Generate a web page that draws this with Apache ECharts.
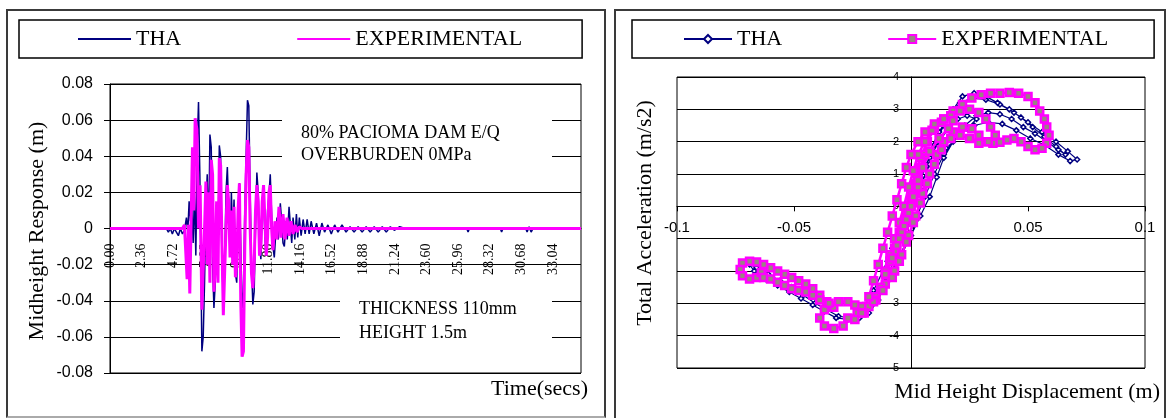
<!DOCTYPE html>
<html><head><meta charset="utf-8">
<script src="https://cdn.jsdelivr.net/npm/echarts@6/dist/echarts.min.js"></script>
<style>
html,body{margin:0;padding:0;background:#fff;width:1168px;height:418px;overflow:hidden;}
#left{position:absolute;left:0;top:0;width:610px;height:418px;}
#right{position:absolute;left:610px;top:0;width:558px;height:418px;}
.frame{position:absolute;border:2px solid #3a3a3a;box-sizing:border-box;}
</style></head>
<body>
<div class="frame" style="left:6px;top:9px;width:600px;height:409px;border-bottom-color:#aaa;"></div>
<div class="frame" style="left:614px;top:9px;width:552px;height:430px;"></div>
<div id="left"></div><div id="right"></div>
<script>
// ---------- DATA: left chart (time history) ----------
const seriesNames = ['THA', 'EXPERIMENTAL'];
const timeTickStep = 2.36;       // label spacing of time axis (s)
const timeMax = 35.12;
const responseTicks = [-0.08, 0.08, 0.02]; // min, max, step
const thaResponse = [
[0,0],[4.20,0],[4.35,-0.002],[4.50,0],[4.65,-0.003],[4.80,0],[4.95,-0.002],[5.10,-0.004],[5.25,0],[5.40,-0.003],[5.55,-0.001],[5.70,0.006],[5.80,-0.002],[5.90,0.015],[6.00,0.004],[6.10,0.012],[6.20,-0.008],[6.30,0.020],[6.40,-0.015],[6.52,0.050],[6.60,0.070],[6.70,0.030],[6.78,-0.020],[6.85,-0.068],[6.95,-0.060],[7.05,-0.030],[7.15,0.010],[7.25,0.030],[7.35,-0.010],[7.45,0.052],[7.55,0.045],[7.65,-0.020],[7.75,-0.044],[7.85,-0.030],[7.95,0.010],[8.05,-0.010],[8.15,0.046],[8.25,0.040],[8.35,-0.020],[8.45,-0.038],[8.55,-0.020],[8.65,0.020],[8.75,0.034],[8.85,0.010],[8.95,-0.015],[9.05,0.020],[9.15,-0.005],[9.25,0.016],[9.35,-0.025],[9.45,-0.030],[9.55,0.005],[9.65,0.025],[9.75,-0.010],[9.85,-0.044],[9.95,-0.035],[10.05,0.010],[10.15,0.040],[10.25,0.071],[10.35,0.068],[10.45,0.020],[10.55,-0.020],[10.65,-0.042],[10.75,-0.035],[10.85,0.000],[10.95,0.031],[11.05,0.020],[11.15,-0.010],[11.25,-0.017],[11.35,0.010],[11.45,0.020],[11.55,-0.005],[11.65,-0.015],[11.75,0.010],[11.85,0.018],[11.95,0.030],[12.05,0.008],[12.15,-0.010],[12.25,-0.016],[12.35,-0.004],[12.45,0.006],[12.55,-0.006],[12.70,0.014],[12.80,0.004],[12.90,-0.008],[13.00,-0.010],[13.12,0.004],[13.22,-0.006],[13.35,0.012],[13.45,0.002],[13.55,-0.008],[13.65,0.006],[13.78,-0.006],[13.90,0.008],[14.00,-0.005],[14.12,0.006],[14.25,-0.004],[14.40,0.005],[14.55,-0.003],[14.70,0.005],[14.85,-0.003],[15.00,0.004],[15.20,-0.003],[15.40,0.003],[15.60,-0.004],[15.80,0.003],[16.00,-0.002],[16.25,0.002],[16.50,-0.003],[16.75,0.002],[17.00,-0.002],[17.30,0.002],[17.60,-0.002],[17.90,0.001],[18.20,-0.002],[18.50,0.001],[18.80,-0.002],[19.10,0.001],[19.40,-0.002],[19.70,0.001],[20.00,-0.002],[20.30,0.001],[20.60,-0.002],[20.90,0.001],[21.20,-0.001],[21.60,0.001],[22.00,0],[26.60,0],[26.70,-0.002],[26.80,0],[29.10,0],[29.20,-0.002],[29.30,0],[31.00,0],[31.10,-0.002],[31.25,0.001],[31.40,-0.002],[31.55,0],[35.12,0]
];
const expResponse = [
[0,0],[5.40,0],[5.55,0.002],[5.65,0.003],[5.75,-0.028],[5.85,0.002],[5.95,-0.036],[6.05,0.005],[6.15,0.045],[6.25,0.010],[6.35,0.061],[6.48,0.055],[6.60,0.000],[6.72,0.024],[6.85,-0.045],[6.95,-0.044],[7.05,0.000],[7.15,0.026],[7.25,-0.020],[7.35,0.020],[7.45,-0.030],[7.55,0.038],[7.65,0.030],[7.75,-0.035],[7.85,-0.020],[7.95,0.015],[8.05,-0.030],[8.15,0.039],[8.25,0.035],[8.35,-0.010],[8.45,-0.048],[8.55,-0.047],[8.65,0.000],[8.75,0.024],[8.85,0.015],[8.95,-0.016],[9.05,0.010],[9.15,-0.020],[9.25,0.012],[9.35,-0.027],[9.45,-0.020],[9.55,0.010],[9.65,0.025],[9.75,-0.040],[9.85,-0.071],[9.95,-0.068],[10.05,-0.010],[10.15,0.030],[10.25,0.049],[10.35,0.045],[10.45,0.000],[10.55,-0.025],[10.65,-0.033],[10.75,-0.020],[10.85,0.010],[10.95,0.024],[11.05,0.015],[11.15,-0.015],[11.25,-0.010],[11.35,0.015],[11.45,0.024],[11.55,0.005],[11.65,-0.015],[11.75,-0.005],[11.85,0.020],[11.95,0.024],[12.05,0.000],[12.15,-0.012],[12.30,0.004],[12.45,-0.006],[12.60,0.012],[12.75,-0.005],[12.90,0.008],[13.05,-0.006],[13.20,0.006],[13.35,-0.004],[13.50,0.004],[13.65,-0.003],[13.80,0.002],[13.95,-0.002],[14.10,0.001],[14.30,0],[35.12,0]
];
const leftNotes = ['80% PACIOMA DAM E/Q', 'OVERBURDEN 0MPa', 'THICKNESS 110mm', 'HEIGHT 1.5m'];

// ---------- DATA: right chart (hysteresis) ----------
const dispTicks = [-0.1, 0.1, 0.05];
const accTicks = [-5, 4, 1];
const thaLoop = [
[0,0],[0.003,0.8],[-0.003,-0.8],[0.006,1.3],[-0.006,-1.4],[0.000,0.2],[0.004,1.0],[0.008,1.7],[0.012,2.3],[0.016,2.8],[0.021,3.2],[0.026,3.35],[0.032,3.3],[0.038,3.15],[0.044,2.9],[0.050,2.6],[0.056,2.3],[0.062,2.0],[0.067,1.7],[0.071,1.45],[0.068,1.4],[0.063,1.6],[0.057,1.9],[0.051,2.1],[0.045,2.35],[0.039,2.55],[0.033,2.6],[0.027,2.5],[0.020,2.2],[0.014,1.6],[0.010,1.0],[0.006,0.3],[0.002,-0.4],[-0.002,-1.1],[-0.006,-1.7],[-0.011,-2.3],[-0.016,-2.8],[-0.021,-3.2],[-0.026,-3.45],[-0.031,-3.4],[-0.036,-3.2],[-0.041,-3.0],[-0.046,-2.75],[-0.051,-2.5],[-0.056,-2.3],[-0.061,-2.1],[-0.066,-1.9],[-0.069,-1.8],[-0.067,-2.0],[-0.062,-2.25],[-0.057,-2.45],[-0.052,-2.65],[-0.047,-2.85],[-0.042,-3.05],[-0.037,-3.25],[-0.032,-3.45],[-0.027,-3.5],[-0.022,-3.45],[-0.018,-3.3],[-0.014,-2.9],[-0.010,-2.2],[-0.006,-1.4],[-0.002,-0.5],[0.002,0.4],[0.006,1.2],[0.010,1.9],[0.014,2.5],[0.018,3.0],[0.022,3.4],[0.027,3.5],[0.032,3.4],[0.037,3.2],[0.042,3.0],[0.047,2.75],[0.052,2.45],[0.057,2.15],[0.062,1.85],[0.066,1.6],[0.063,1.75],[0.058,2.0],[0.053,2.25],[0.048,2.45],[0.043,2.7],[0.038,2.85],[0.033,2.9],[0.028,2.8],[0.023,2.5],[0.018,2.0],[0.014,1.5],[0.011,0.9],[0.008,0.3],[0.004,-0.3],[0.000,-0.9],[-0.004,-1.5],[-0.008,-2.0],[-0.013,-2.6],[-0.018,-3.1],[-0.023,-3.4],[-0.020,-3.1],[-0.016,-2.6],[-0.012,-2.0],[-0.008,-1.3],[-0.004,-0.6],[0.000,0.2],[0.004,0.9],[0.008,1.5],[0.012,2.0],[0.016,2.4],[0.020,2.7],[0.024,2.8],[0.028,2.7],[0.024,2.4],[0.015,1.8],[0.005,0.6],[-0.005,-0.9],[-0.010,-1.7],[0.000,0.0],[0.008,1.3],[-0.004,-0.8],[0.004,0.5],[0,0]
];
const expLoop = [
[0,0],[0.001,0.3],[0.002,0.6],[0.003,0.9],[0.001,0.4],[-0.001,-0.2],[-0.003,-0.6],[-0.004,-0.9],[-0.002,-0.4],[0.000,0.2],[0.002,0.7],[0.004,1.2],[0.006,1.6],[0.004,1.2],[0.001,0.5],[-0.002,-0.2],[-0.005,-0.8],[-0.007,-1.3],[-0.009,-1.7],[-0.007,-1.4],[-0.004,-0.8],
[-0.002,-0.2],[0.000,0.4],[0.002,1.0],[0.004,1.5],[0.007,2.0],[0.010,2.4],[0.014,2.7],[0.018,2.95],[0.022,3.15],[0.026,3.35],[0.030,3.45],[0.034,3.5],[0.038,3.5],[0.042,3.52],[0.046,3.5],[0.050,3.4],[0.053,3.2],[0.055,2.95],[0.057,2.7],[0.058,2.45],[0.059,2.2],[0.058,1.95],[0.056,1.8],[0.053,1.75],[0.050,1.85],[0.047,2.0],[0.044,2.1],[0.041,2.05],[0.038,1.98],[0.035,1.95],[0.032,2.0],[0.029,2.2],[0.026,2.4],[0.022,2.45],[0.018,2.3],[0.014,2.0],[0.011,1.6],[0.008,1.0],[0.005,0.4],[0.002,-0.3],[-0.001,-0.9],[-0.004,-1.5],[-0.007,-2.0],[-0.011,-2.4],[-0.015,-2.8],[-0.019,-3.1],[-0.023,-3.3],[-0.027,-3.45],[-0.029,-3.7],[-0.033,-3.78],[-0.037,-3.7],[-0.039,-3.45],[-0.037,-3.2],[-0.033,-3.12],[-0.036,-2.95],[-0.039,-2.75],[-0.042,-2.55],[-0.045,-2.4],[-0.048,-2.3],[-0.051,-2.2],[-0.054,-2.1],[-0.057,-2.0],[-0.060,-1.9],[-0.063,-1.8],[-0.066,-1.72],[-0.069,-1.7],[-0.072,-1.75],[-0.073,-1.95],[-0.072,-2.15],[-0.069,-2.25],[-0.066,-2.2],[-0.064,-2.05],[-0.063,-2.2],[-0.060,-2.25],[-0.057,-2.35],[-0.054,-2.45],[-0.051,-2.55],[-0.048,-2.6],[-0.045,-2.65],[-0.042,-2.75],[-0.039,-2.9],[-0.035,-3.0],[-0.031,-2.95],[-0.027,-2.95],[-0.024,-3.05],[-0.021,-3.1],[-0.018,-3.1],[-0.015,-2.9],[-0.013,-2.5],[-0.011,-2.0],[-0.009,-1.5],[-0.007,-1.0],[-0.005,-0.5],[-0.003,0.0],[-0.001,0.6],[0.001,1.1],[0.003,1.6],[0.006,2.0],[0.009,2.35],[0.013,2.6],[0.017,2.8],[0.021,2.95],[0.025,3.0],[0.029,2.9],[0.032,2.7],[0.034,2.45],[0.036,2.2],[0.033,2.0],[0.029,1.95],[0.025,2.1],[0.021,2.2],[0.017,2.1],[0.013,1.75],[0.010,1.3],[0.007,0.7],[0.004,0.1],[0.001,-0.5],[-0.002,-1.1],[-0.005,-1.7],[-0.008,-2.2],[-0.012,-2.6],[-0.016,-2.95],[-0.020,-3.3],[-0.024,-3.5],[-0.021,-3.3],[-0.018,-2.8],[-0.016,-2.3],[-0.014,-1.8],[-0.012,-1.3],[-0.010,-0.8],[-0.008,-0.3],[-0.006,0.2],[-0.004,0.7],[-0.002,1.2],[0.000,1.6],[0.003,2.0],[0.006,2.3],[0.010,2.55],[0.014,2.7],[0.018,2.65],[0.016,2.4],[0.012,2.1],[0.008,1.7],[0.005,1.2],[0.003,0.6],[0.000,0.0],[-0.003,-0.6],[-0.006,-1.2],[-0.009,-1.7],[-0.011,-2.1],[-0.008,-1.6],[-0.005,-1.0],[-0.002,-0.4],[0.001,0.3],[0.003,0.8],[0.001,0.3],[-0.001,-0.2],[0,0]
];
const axisTitles = ['Midheight Response (m)', 'Time(secs)', 'Total Acceleration (m/s2)', 'Mid Height Displacement (m)'];

// ---------- styling ----------
const NAVY = '#000080', MAGENTA = '#ff00ff';
const SERIF = '"Liberation Serif", "Times New Roman", serif';
const SANS = '"Liberation Sans", Arial, sans-serif';

function txt(x, y, text, size, opts) {
  opts = opts || {};
  return {
    type: 'text', x: x, y: y, rotation: opts.rotation || 0, z: 60,
    style: { text: text, font: size + 'px ' + SERIF, fill: '#000',
      align: opts.align || 'left', textAlign: opts.align || 'left',
      verticalAlign: 'middle', textVerticalAlign: 'middle' }
  };
}

// left grid geometry
const LG = { left: 110, top: 84, width: 471, height: 289 };
const left = echarts.init(document.getElementById('left'));
left.setOption({
  animation: false,
  legend: {
    data: seriesNames, selectedMode: false, left: 19, top: 20,
    padding: [8, 60, 8, 58], itemGap: 115, itemWidth: 53, itemHeight: 14,
    borderColor: '#000', borderWidth: 1.5,
    itemStyle: { opacity: 0 },
    textStyle: { fontFamily: SERIF, fontSize: 22, color: '#000' }
  },
  grid: Object.assign({ show: true, borderColor: '#000', borderWidth: 1 }, LG),
  xAxis: {
    type: 'value', min: 0, max: timeMax, interval: timeTickStep,
    position: 'bottom', offset: -LG.height / 2,
    axisLine: { onZero: false, lineStyle: { color: '#000', width: 1 } },
    axisTick: { show: false }, splitLine: { show: false },
    axisLabel: {
      rotate: 90, margin: 15, fontFamily: SERIF, fontSize: 14, color: '#000',
      showMaxLabel: false,
      formatter: function (v) { const k = v / timeTickStep; return Math.abs(k - Math.round(k)) < 1e-6 ? v.toFixed(2) : ''; }
    }
  },
  yAxis: {
    type: 'value', min: responseTicks[0], max: responseTicks[1], interval: responseTicks[2],
    axisLine: { show: true, onZero: false, lineStyle: { color: '#000', width: 1 } },
    axisTick: { show: true, length: 6, lineStyle: { color: '#000' } },
    splitLine: { show: true, lineStyle: { color: '#000', width: 1 } },
    axisLabel: { margin: 17, fontFamily: SANS, fontSize: 16, color: '#000',
      formatter: function (v) { return Math.abs(v) < 1e-9 ? '0' : v.toFixed(2); } }
  },
  series: [
    { name: seriesNames[0], type: 'line', data: thaResponse, symbol: 'none', z: 2,
      lineStyle: { color: NAVY, width: 1.5 }, itemStyle: { color: NAVY } },
    { name: seriesNames[1], type: 'line', data: expResponse, symbol: 'none', z: 3,
      lineStyle: { color: MAGENTA, width: 3 }, itemStyle: { color: MAGENTA } }
  ],
  graphic: [
    { type: 'rect', z: 50, shape: { x: 282, y: 100, width: 270, height: 72 }, style: { fill: '#fff' } },
    { type: 'rect', z: 50, shape: { x: 340, y: 286, width: 212, height: 62 }, style: { fill: '#fff' } },
    txt(301, 133, leftNotes[0], 18),
    txt(301, 155, leftNotes[1], 18),
    txt(359, 309, leftNotes[2], 18),
    txt(359, 333, leftNotes[3], 18),
    txt(37, 231, axisTitles[0], 22, { align: 'center', rotation: Math.PI / 2 }),
    txt(588, 389, axisTitles[1], 22, { align: 'right' })
  ]
});

// right grid geometry
const RG = { left: 67, top: 77, width: 468, height: 291 };
const right = echarts.init(document.getElementById('right'));
right.setOption({
  animation: false,
  legend: {
    data: seriesNames, selectedMode: false, left: 22, top: 20,
    padding: [8, 46, 8, 51], itemGap: 105, itemWidth: 48, itemHeight: 10,
    borderColor: '#000', borderWidth: 1.5,
    textStyle: { fontFamily: SERIF, fontSize: 22, color: '#000' }
  },
  grid: Object.assign({ show: true, borderColor: '#000', borderWidth: 1 }, RG),
  xAxis: {
    type: 'value', min: dispTicks[0], max: dispTicks[1], interval: dispTicks[2],
    position: 'bottom', offset: -RG.height * (0 - accTicks[0]) / (accTicks[1] - accTicks[0]),
    axisLine: { onZero: false, lineStyle: { color: '#000', width: 1 } },
    axisTick: { show: true, length: 5, lineStyle: { color: '#000' } },
    splitLine: { show: false },
    axisLabel: { margin: 14, fontFamily: SANS, fontSize: 15, color: '#000',
      formatter: function (v) { return Math.abs(v) < 1e-9 ? '0' : String(+v.toFixed(2)); } }
  },
  yAxis: {
    type: 'value', min: accTicks[0], max: accTicks[1], interval: accTicks[2],
    position: 'left', offset: -RG.width * (0 - dispTicks[0]) / (dispTicks[1] - dispTicks[0]),
    axisLine: { onZero: false, lineStyle: { color: '#000', width: 1 } },
    axisTick: { show: true, length: 5, lineStyle: { color: '#000' } },
    splitLine: { show: true, lineStyle: { color: '#000', width: 1 } },
    axisLabel: { margin: 12, fontFamily: SANS, fontSize: 11, color: '#000' }
  },
  series: [
    { name: seriesNames[0], type: 'line', data: thaLoop, z: 2,
      symbol: 'diamond', symbolSize: 5, showSymbol: true,
      lineStyle: { color: NAVY, width: 1.2 },
      itemStyle: { color: '#ffffff', borderColor: NAVY, borderWidth: 1.5 } },
    { name: seriesNames[1], type: 'line', data: expLoop, z: 3,
      symbol: 'rect', symbolSize: 7, showSymbol: true,
      lineStyle: { color: MAGENTA, width: 2.5 },
      itemStyle: { color: '#9a8283', borderColor: MAGENTA, borderWidth: 2.5 } }
  ],
  graphic: [
    txt(35, 213, axisTitles[2], 22, { align: 'center', rotation: Math.PI / 2 }),
    txt(550, 392, axisTitles[3], 22, { align: 'right' })
  ]
});
</script>
</body></html>
